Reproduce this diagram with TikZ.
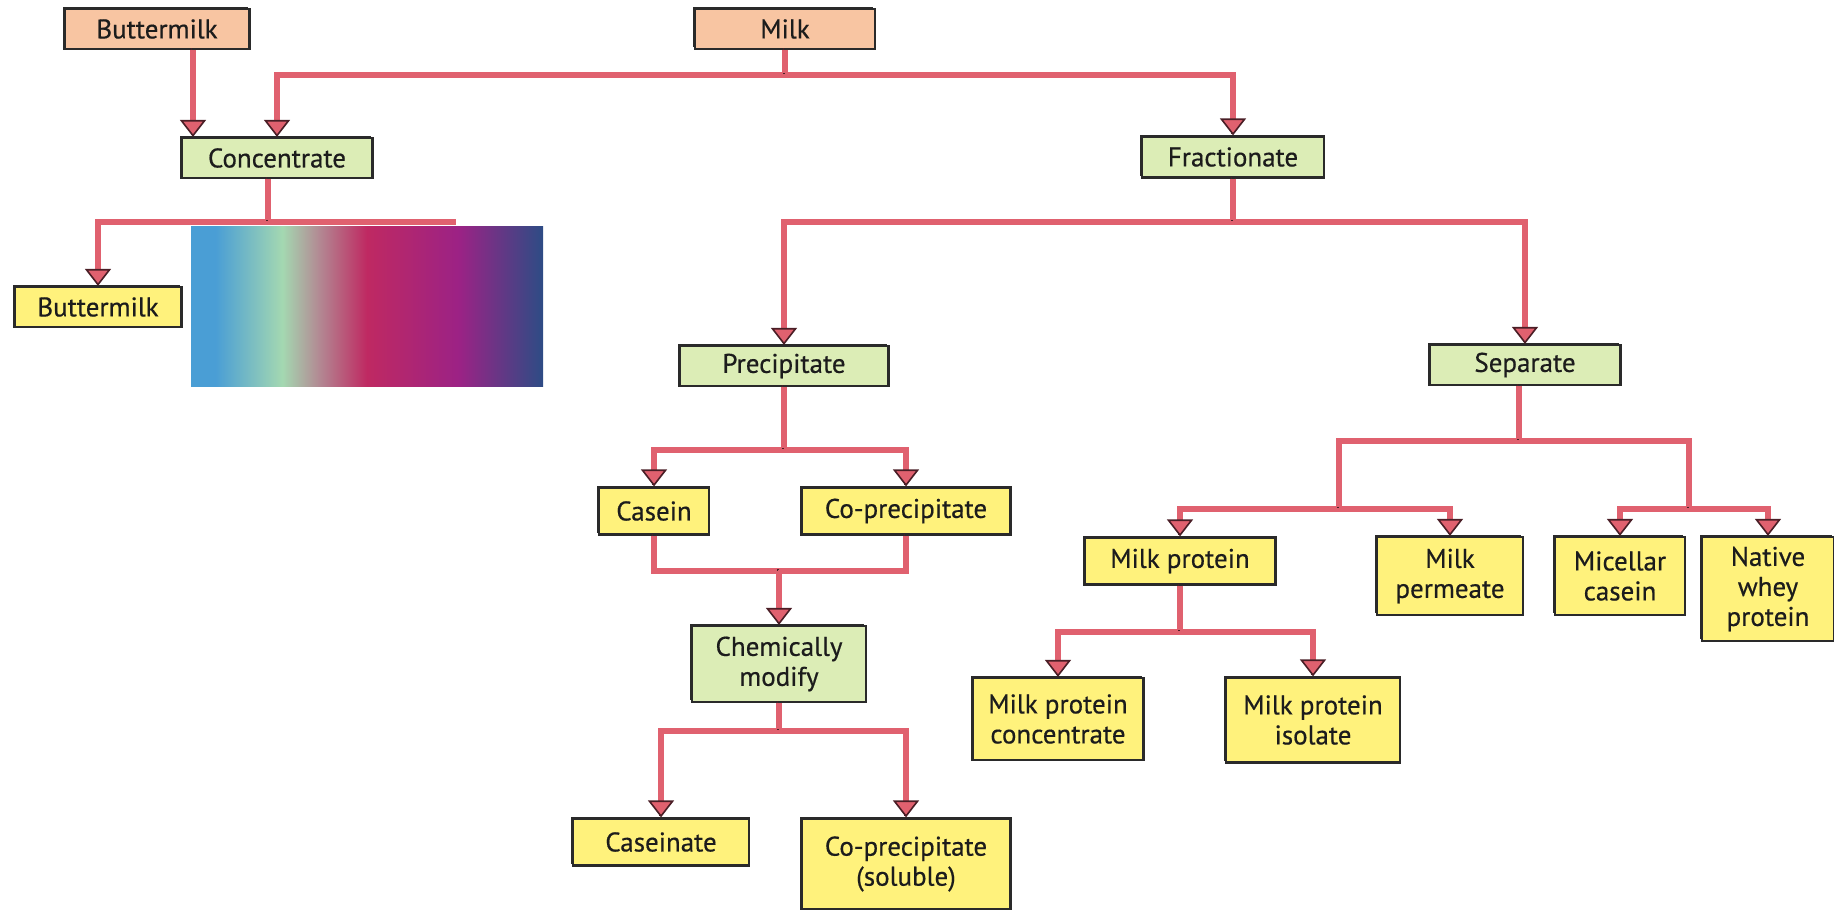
\documentclass[tikz,border=0pt]{standalone}
\usepackage{fontspec}
\setmainfont{PT Sans}
\newfontfamily\boxfont{PT Sans}[FakeBold=0.5]
\usetikzlibrary{arrows.meta,calc}
\definecolor{peach}{HTML}{F8C5A2}
\definecolor{leaf}{HTML}{DCEDB6}
\definecolor{butter}{HTML}{FFF27C}
\definecolor{linkpink}{HTML}{E0616F}
\definecolor{linkdark}{HTML}{4A1E26}
\definecolor{edge}{HTML}{2A2A2A}
\definecolor{ink}{HTML}{1C1C1C}
\definecolor{gblue}{HTML}{4A9ED5}
\definecolor{ggreen}{HTML}{A4D8B1}
\definecolor{ggrey}{HTML}{B28C94}
\definecolor{gcrimson}{HTML}{BF2962}
\definecolor{gmagenta}{HTML}{9C2285}
\definecolor{gnavy}{HTML}{2D4C85}
\pgfdeclarehorizontalshading{veilshade}{100bp}{color(0bp)=(gblue); color(25bp)=(gblue); color(28.5bp)=(gblue); color(38bp)=(ggreen); color(43bp)=(ggrey); color(50bp)=(gcrimson); color(63bp)=(gmagenta); color(75bp)=(gnavy); color(100bp)=(gnavy)}

\begin{document}
\begin{tikzpicture}[
  x=1pt, y=-1pt,
  box/.style={draw=edge, line width=2.2pt, inner sep=2pt, align=center, text=ink,
    font=\boxfont\fontsize{27}{30}\selectfont,
    preaction={fill=edge, transform canvas={shift={(-1.8pt,1.8pt)}}}},
  source/.style={box, fill=peach},
  process/.style={box, fill=leaf},
  product/.style={box, fill=butter},
  link/.style={line width=5.5pt, draw=linkpink,
    preaction={draw=linkdark, -, transform canvas={shift={(-1.8pt,1.8pt)}}}},
  feed/.style={link, -{Triangle[width=26pt, length=17pt, fill=linkpink, color=linkdark, line width=1.6pt]}},
  veil/.style={shading=veilshade, inner sep=0pt, minimum width=352pt, minimum height=160pt}
]
  \useasboundingbox (0,0) rectangle (1834,910);

  % raw materials
  \node[source, minimum width=185pt, minimum height=40pt] (btop) at (157,29) {Buttermilk};
  \node[source, minimum width=180pt, minimum height=40pt] (milk) at (785,29) {Milk};

  % processes
  \node[process, minimum width=191pt, minimum height=40pt] (conc) at (277,158) {Concentrate};
  \node[process, minimum width=182pt, minimum height=41pt] (frac) at (1233,157) {Fractionate};
  \node[process, minimum width=209pt, minimum height=40pt] (prec) at (784,366) {Precipitate};
  \node[process, minimum width=191pt, minimum height=40pt] (sep) at (1525,365) {Separate};
  \node[process, minimum width=174pt, minimum height=76pt] (chem) at (779,664) {Chemically\\modify};

  % products
  \node[product, minimum width=167pt, minimum height=40pt] (bmilk) at (98,307) {Buttermilk};
  \node[product, minimum width=110pt, minimum height=47pt] (casein) at (654,511) {Casein};
  \node[product, minimum width=209pt, minimum height=47pt] (coprec) at (906,511) {Co-precipitate};
  \node[product, minimum width=176pt, minimum height=47pt] (caseinate) at (661,842) {Caseinate};
  \node[product, minimum width=209pt, minimum height=91pt] (coprecsol) at (906,864) {Co-precipitate\\(soluble)};
  \node[product, minimum width=191pt, minimum height=47pt] (mprot) at (1180,561) {Milk protein};
  \node[product, minimum width=146pt, minimum height=78pt] (mperm) at (1450,576) {Milk\\permeate};
  \node[product, minimum width=130pt, minimum height=78pt] (micell) at (1620,576) {Micellar\\casein};
  \node[product, minimum width=132pt, minimum height=104pt] (whey) at (1768,589) {Native\\whey\\protein};
  \node[product, minimum width=171pt, minimum height=82pt] (mpc) at (1058,719) {Milk protein\\concentrate};
  \node[product, minimum width=174pt, minimum height=85pt] (mpi) at (1313,720) {Milk protein\\isolate};

  % bus points
  \coordinate (milkbus) at (milk.south |- 0,75);
  \coordinate (btopout) at ([xshift=36pt]btop.south);
  \coordinate (concout) at ([xshift=-9pt]conc.south);
  \coordinate (concbus) at (concout |- 0,222);
  \coordinate (hidden) at (456,222);
  \coordinate (fracbus) at (frac.south |- 0,222);
  \coordinate (precbus) at (prec.south |- 0,450);
  \coordinate (joinbus) at (chem.north |- 0,571);
  \coordinate (chembus) at (chem.south |- 0,731);
  \coordinate (sepout) at ([xshift=-6pt]sep.south);
  \coordinate (sepbus) at (sepout |- 0,441);
  \coordinate (sepleft) at (1339,509);
  \coordinate (sepright) at (1689,509);
  \coordinate (mprotbus) at (mprot.south |- 0,632);

  % milk and buttermilk
  \draw[link] (milk.south) -- (milkbus);
  \draw[feed] (milkbus) -| (conc.north);
  \draw[feed] (milkbus) -| (frac.north);
  \draw[feed] (btopout) -- (btopout |- conc.north);

  % concentrate
  \draw[link] (concout) -- (concbus);
  \draw[feed] (concbus) -| (bmilk.north);
  \draw[link] (concbus) -- (hidden);

  % fractionate
  \draw[link] (frac.south) -- (fracbus);
  \draw[feed] (fracbus) -| (prec.north);
  \draw[feed] (fracbus) -| (sep.north);

  % precipitate
  \draw[link] (prec.south) -- (precbus);
  \draw[feed] (precbus) -| (casein.north);
  \draw[feed] (precbus) -| (coprec.north);
  \draw[link] (casein.south) |- (joinbus);
  \draw[link] (coprec.south) |- (joinbus);
  \draw[feed] (joinbus) -- (chem.north);
  \draw[link] (chem.south) -- (chembus);
  \draw[feed] (chembus) -| (caseinate.north);
  \draw[feed] (chembus) -| (coprecsol.north);

  % separate
  \draw[link] (sepout) -- (sepbus);
  \draw[link] (sepbus) -| (sepleft);
  \draw[link] (sepbus) -| (sepright);
  \draw[feed] (sepleft) -| (mprot.north);
  \draw[feed] (sepleft) -| (mperm.north);
  \draw[feed] (sepright) -| (micell.north);
  \draw[feed] (sepright) -| (whey.north);
  \draw[link] (mprot.south) -- (mprotbus);
  \draw[feed] (mprotbus) -| (mpc.north);
  \draw[feed] (mprotbus) -| (mpi.north);

  % colour band over the hidden branch
  \node[veil] (band) at (367,306) {};
\end{tikzpicture}
\end{document}
